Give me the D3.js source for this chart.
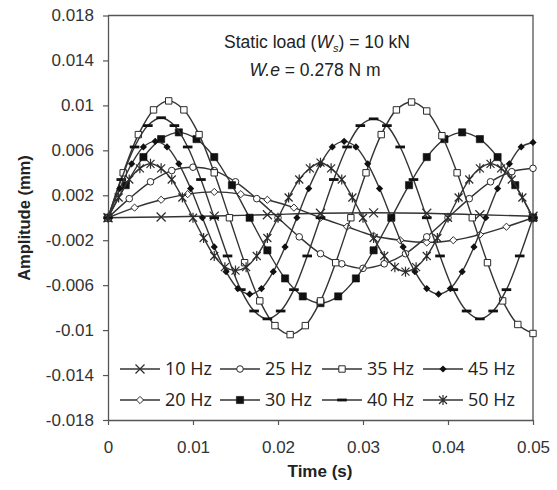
<!DOCTYPE html>
<html>
<head>
<meta charset="utf-8">
<script src="https://cdn.jsdelivr.net/npm/d3@7"></script>
<style>
  body { margin: 0; background: #ffffff; }
  svg { display: block; }
</style>
</head>
<body>
<svg id="chart" width="557" height="490"></svg>
<script>
// ---- Data -------------------------------------------------------------
const timeDomain = [0, 0.05];
const amplitudeDomain = [-0.018, 0.018];

const xTickValues = [0, 0.01, 0.02, 0.03, 0.04, 0.05];
const xTickLabels = ["0", "0.01", "0.02", "0.03", "0.04", "0.05"];
const yTickValues = [0.018, 0.014, 0.01, 0.006, 0.002, -0.002, -0.006, -0.01, -0.014, -0.018];
const yTickLabels = ["0.018", "0.014", "0.01", "0.006", "0.002", "-0.002", "-0.006", "-0.01", "-0.014", "-0.018"];

const seriesNames = ["10 Hz", "20 Hz", "25 Hz", "30 Hz", "35 Hz", "40 Hz", "45 Hz", "50 Hz"];
// time between successive samples of each record (s)
const sampleStep = [0.00625, 0.003125, 0.0025, 0.0020833, 0.0017857, 0.0015625, 0.0013889, 0.00125];

// amplitude (mm) at each sample, starting at t = 0
const amp10Hz = [0, 0.00007, 0.00015, 0.00027, 0.0004, 0.00044, 0.0004, 0.00027, 0.00013];
const amp20Hz = [0, 0.0009, 0.0016, 0.0021, 0.0023, 0.0021, 0.0016, 0.0009, 0,
                 -0.0008, -0.0016, -0.002, -0.0022, -0.002, -0.0015, -0.0008, 0];
const amp25Hz = [0, 0.0017, 0.0032, 0.0042, 0.0045, 0.0042, 0.0032, 0.0017, 0,
                 -0.0017, -0.0032, -0.0041, -0.0045, -0.0041, -0.0032, -0.0017, 0,
                 0.0017, 0.0032, 0.0041, 0.0044];
const amp30Hz = [0, 0.0029, 0.0054, 0.007, 0.0076, 0.007, 0.0054, 0.0029, 0,
                 -0.0029, -0.0054, -0.007, -0.0076, -0.007, -0.0054, -0.0029, 0,
                 0.0029, 0.0054, 0.007, 0.0076, 0.007, 0.0054, 0.0029, 0];
const amp35Hz = [0, 0.004, 0.0074, 0.0096, 0.0104, 0.0096, 0.0074, 0.004, 0,
                 -0.004, -0.0074, -0.0096, -0.0104, -0.0096, -0.0074, -0.004, 0,
                 0.004, 0.0074, 0.0096, 0.0103, 0.0095, 0.0073, 0.004, 0,
                 -0.004, -0.0074, -0.0095, -0.0103];
const amp40Hz = [0, 0.0034, 0.0063, 0.0082, 0.0089, 0.0082, 0.0063, 0.0034, 0,
                 -0.0034, -0.0064, -0.0083, -0.009, -0.0083, -0.0064, -0.0034, 0,
                 0.0034, 0.0063, 0.0082, 0.0088, 0.0082, 0.0063, 0.0034, 0,
                 -0.0034, -0.0064, -0.0083, -0.009, -0.0083, -0.0064, -0.0034, 0];
const amp45Hz = [0, 0.0026, 0.0048, 0.0063, 0.0068, 0.0063, 0.0048, 0.0026, 0,
                 -0.0026, -0.0048, -0.0063, -0.0068, -0.0063, -0.0048, -0.0026, 0,
                 0.0026, 0.0048, 0.0063, 0.0068, 0.0063, 0.0048, 0.0026, 0,
                 -0.0026, -0.0048, -0.0063, -0.0068, -0.0063, -0.0048, -0.0026, 0,
                 0.0026, 0.0048, 0.0063, 0.0067];
const amp50Hz = [0, 0.0018, 0.0034, 0.0044, 0.0048, 0.0044, 0.0034, 0.0018, 0,
                 -0.0018, -0.0034, -0.0044, -0.0047, -0.0044, -0.0034, -0.0018, 0,
                 0.0018, 0.0034, 0.0044, 0.0049, 0.0044, 0.0034, 0.0018, 0,
                 -0.0018, -0.0034, -0.0044, -0.0048, -0.0044, -0.0034, -0.0018, 0,
                 0.0018, 0.0034, 0.0044, 0.0048, 0.0044, 0.0034, 0.0018, 0];

const seriesValues = [amp10Hz, amp20Hz, amp25Hz, amp30Hz, amp35Hz, amp40Hz, amp45Hz, amp50Hz];
const seriesMarkers = ["cross", "diamondOpen", "circleOpen", "squareFilled",
                       "squareOpen", "dash", "diamondFilled", "star"];

// legend layout: two rows, four columns
const legendRows = [["10 Hz", "25 Hz", "35 Hz", "45 Hz"],
                    ["20 Hz", "30 Hz", "40 Hz", "50 Hz"]];

// ---- Drawing ----------------------------------------------------------
const ink = "#2b2b2b";
const axisInk = "#555555";
const plot = { left: 108, right: 533, top: 15.5, bottom: 420 };

const svg = d3.select("#chart");
svg.append("rect").attr("width", 557).attr("height", 490).attr("fill", "#ffffff");

const x = d3.scaleLinear().domain(timeDomain).range([plot.left, plot.right]);
const y = d3.scaleLinear().domain(amplitudeDomain).range([plot.bottom, plot.top]);

// frame (top and right edges)
svg.append("path")
  .attr("d", `M${plot.left},${plot.top}H${plot.right}V${plot.bottom}`)
  .attr("fill", "none").attr("stroke", axisInk).attr("stroke-width", 1.3);

const tickFont = "'Liberation Sans', Arial, sans-serif";

const xAxis = svg.append("g")
  .attr("transform", `translate(0,${plot.bottom})`)
  .call(d3.axisBottom(x).tickValues(xTickValues)
    .tickFormat((d, i) => xTickLabels[i]).tickSize(5).tickSizeOuter(0).tickPadding(16));
const yAxis = svg.append("g")
  .attr("transform", `translate(${plot.left},0)`)
  .call(d3.axisLeft(y).tickValues(yTickValues)
    .tickFormat((d, i) => yTickLabels[i]).tickSize(5).tickSizeOuter(0).tickPadding(9));

[xAxis, yAxis].forEach(g => {
  g.select(".domain").attr("stroke", axisInk).attr("stroke-width", 1.3);
  g.selectAll(".tick line").attr("stroke", axisInk).attr("stroke-width", 1.2);
  g.selectAll(".tick text").attr("fill", "#333").style("font-family", tickFont).style("font-size", "17px");
});

// axis titles
svg.append("text")
  .attr("x", 320).attr("y", 477).attr("text-anchor", "middle")
  .style("font-family", tickFont).style("font-size", "17px").style("font-weight", "bold")
  .attr("fill", "#222").text("Time (s)");
svg.append("text")
  .attr("transform", `translate(30,218) rotate(-90)`).attr("text-anchor", "middle")
  .style("font-family", tickFont).style("font-size", "16.5px").style("font-weight", "bold")
  .attr("fill", "#222").text("Amplitude (mm)");

// annotation
const note = svg.append("g").style("font-family", tickFont).style("font-size", "17.5px").attr("fill", "#222");
const line1 = note.append("text").attr("x", 317).attr("y", 48).attr("text-anchor", "middle");
line1.append("tspan").text("Static load (");
line1.append("tspan").style("font-style", "italic").text("W");
line1.append("tspan").style("font-style", "italic").style("font-size", "11px").attr("dy", 4).text("s");
line1.append("tspan").attr("dy", -4).text(") = 10 kN");
const line2 = note.append("text").attr("x", 315).attr("y", 76).attr("text-anchor", "middle");
line2.append("tspan").style("font-style", "italic").text("W.e");
line2.append("tspan").text(" = 0.278 N m");

// marker shapes, centred on the sample
const markerStyles = {
  cross:         { d: "M-4.5,-4.5L4.5,4.5M-4.5,4.5L4.5,-4.5", fill: "none", stroke: ink, sw: 1.2 },
  diamondOpen:   { d: "M0,-3.6L3.6,0L0,3.6L-3.6,0Z", fill: "#fff", stroke: ink, sw: 1 },
  circleOpen:    { d: "M3.3,0A3.3,3.3 0 1,1 -3.3,0A3.3,3.3 0 1,1 3.3,0Z", fill: "#fff", stroke: ink, sw: 1 },
  squareFilled:  { d: "M-3.6,-3.6h7.2v7.2h-7.2Z", fill: "#111", stroke: "#111", sw: 0.6 },
  squareOpen:    { d: "M-3.2,-3.2h6.4v6.4h-6.4Z", fill: "#fff", stroke: ink, sw: 1 },
  dash:          { d: "M-4.8,-1.4h9.6v2.8h-9.6Z", fill: "#111", stroke: "none", sw: 0 },
  diamondFilled: { d: "M0,-3.6L3.6,0L0,3.6L-3.6,0Z", fill: "#111", stroke: "none", sw: 0 },
  star:          { d: "M-4,-4L4,4M-4,4L4,-4M0,-5V5", fill: "none", stroke: ink, sw: 1.2 }
};

function addMarkers(g, type, points, px, py) {
  const s = markerStyles[type];
  g.selectAll("path.marker").data(points).join("path")
    .attr("class", "marker")
    .attr("d", s.d)
    .attr("transform", p => `translate(${px(p)},${py(p)})`)
    .attr("fill", s.fill).attr("stroke", s.stroke).attr("stroke-width", s.sw);
}

const lineGen = d3.line()
  .x(p => x(p.t)).y(p => y(p.v))
  .curve(d3.curveCatmullRom.alpha(0.5));

const plotLayer = svg.append("g");
seriesNames.forEach((name, i) => {
  const pts = seriesValues[i].map((v, k) => ({ t: k * sampleStep[i], v }));
  const g = plotLayer.append("g").attr("class", "series");
  g.append("path").datum(pts).attr("d", lineGen)
    .attr("fill", "none").attr("stroke", "#333").attr("stroke-width", 1.4);
  addMarkers(g, seriesMarkers[i], pts, p => x(p.t), p => y(p.v));
});

// legend
const legendCols = [120, 220, 322, 423];
const legendRowY = [369, 400];
const legend = svg.append("g");
legendRows.forEach((row, r) => {
  row.forEach((name, c) => {
    const idx = seriesNames.indexOf(name);
    const x0 = legendCols[c], yy = legendRowY[r];
    const item = legend.append("g");
    item.append("line").attr("x1", x0).attr("x2", x0 + 40).attr("y1", yy).attr("y2", yy)
      .attr("stroke", "#333").attr("stroke-width", 1.4);
    addMarkers(item, seriesMarkers[idx], [0], () => x0 + 20, () => yy);
    item.append("text").attr("x", x0 + 45).attr("y", yy).attr("dy", "0.36em")
      .style("font-family", "'Open Sans', 'Noto Sans', sans-serif").style("font-size", "18px")
      .attr("fill", "#222").text(name);
  });
});
</script>
</body>
</html>
